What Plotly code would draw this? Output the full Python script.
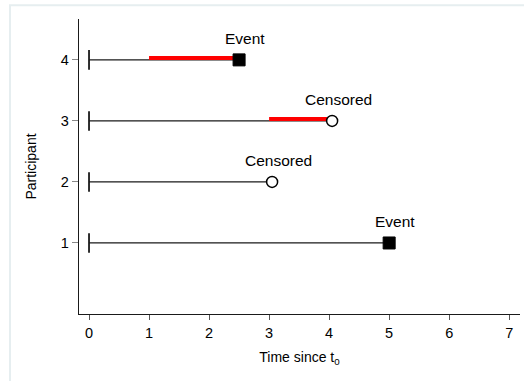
import plotly.graph_objects as go

# Follow-up data per participant
participants = [1, 2, 3, 4]
end_times = [5.0, 3.05, 4.05, 2.5]
outcomes = ["Event", "Censored", "Censored", "Event"]
# Highlighted exposure windows (participant, start, stop)
window_ids = [3, 4]
window_start = [3.0, 1.0]
window_stop = [4.0, 2.5]

x_ticks = [0, 1, 2, 3, 4, 5, 6, 7]
y_ticks = [1, 2, 3, 4]

FONT = "Liberation Sans, Arial, sans-serif"
LINE = "#1a1a1a"

fig = go.Figure()

# Follow-up lines
for pid, t in zip(participants, end_times):
    fig.add_trace(go.Scatter(x=[0, t], y=[pid, pid], mode="lines",
                             line=dict(color=LINE, width=1.3),
                             showlegend=False, hoverinfo="skip"))
    # start-of-follow-up tick
    fig.add_trace(go.Scatter(x=[0, 0], y=[pid - 0.16, pid + 0.16], mode="lines",
                             line=dict(color=LINE, width=1.8),
                             showlegend=False, hoverinfo="skip"))

# Red windows, drawn just above the follow-up line
for pid, a, b in zip(window_ids, window_start, window_stop):
    fig.add_trace(go.Scatter(x=[a, b], y=[pid + 0.03, pid + 0.03], mode="lines",
                             line=dict(color="#ff0000", width=4),
                             showlegend=False, hoverinfo="skip"))

# End markers
for pid, t, o in zip(participants, end_times, outcomes):
    if o == "Event":
        marker = dict(symbol="square", size=12, color="black",
                      line=dict(color="black", width=1))
    else:
        marker = dict(symbol="circle", size=11, color="white",
                      line=dict(color="black", width=1.5))
    fig.add_trace(go.Scatter(x=[t], y=[pid], mode="markers", marker=marker,
                             showlegend=False, hoverinfo="skip"))
    fig.add_annotation(x=t, y=pid, text=o, showarrow=False, xref="x", yref="y",
                       xshift=6, yshift=21, yanchor="middle",
                       font=dict(family=FONT, size=15.5, color="black"))

# Light frame around the graph region
fig.add_shape(type="rect", xref="paper", yref="paper",
              x0=-0.1565, x1=1.2, y0=-0.5, y1=1.047,
              line=dict(color="#e6eef0", width=2), fillcolor="rgba(0,0,0,0)",
              layer="below")

fig.update_layout(
    width=524, height=381,
    margin=dict(l=79, r=4, t=19, b=67),
    paper_bgcolor="white", plot_bgcolor="white",
    font=dict(family=FONT, size=14, color="black"),
    xaxis=dict(range=[-0.167, 7.18], tickvals=x_ticks, showgrid=False,
               zeroline=False, showline=True, linecolor=LINE, linewidth=1.3,
               ticks="outside", ticklen=5, tickcolor="#555", tickwidth=1.3,
               tickfont=dict(size=14.5),
               title=dict(text="Time since t<sub>0</sub>", font=dict(size=14),
                          standoff=12)),
    yaxis=dict(range=[-0.164, 4.67], tickvals=y_ticks, showgrid=False,
               zeroline=False, showline=True, linecolor=LINE, linewidth=1.3,
               ticks="outside", ticklen=6, tickcolor="#888", tickwidth=1.3,
               tickfont=dict(size=14.5),
               title=dict(text="Participant", font=dict(size=14), standoff=20)),
)

fig.write_html("out.html")
